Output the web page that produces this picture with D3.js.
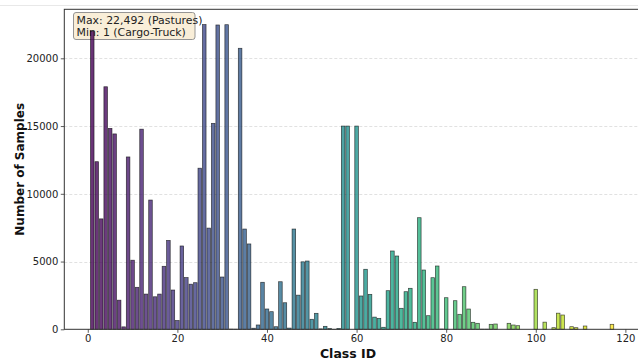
<!DOCTYPE html>
<html>
<head>
<meta charset="utf-8">
<script src="https://cdn.jsdelivr.net/npm/d3@7"></script>
<style>
  html, body { margin: 0; padding: 0; background: #fff; }
  svg { display: block; }
  text { font-family: "DejaVu Sans", sans-serif; }
</style>
</head>
<body>
<svg id="chart" width="638" height="360"></svg>
<script>
// ---- data ----
const classIds = [
  1,2,3,4,5,6,7,8,9,10,11,12,13,14,15,16,17,18,19,20,
  21,22,23,24,25,26,27,28,29,30,31,32,33,34,35,36,37,38,39,40,
  41,42,43,44,45,46,47,48,49,50,51,52,53,54,55,56,57,58,60,
  61,62,63,64,65,66,67,68,69,70,71,72,73,74,75,76,77,78,79,80,
  82,83,84,85,86,87,88,89,90,91,94,95,96,100,102,104,105,106,108,109,111,117
];
const sampleCounts = [
  22000,12370,8150,17900,14830,14420,2150,180,12720,5100,3100,14770,2600,9540,2400,2600,4650,6560,2900,650,
  6150,3820,3330,3440,11890,22492,7470,15200,22460,3860,22480,15,10,20740,7400,6300,80,320,3470,1500,
  1300,190,3510,1960,90,7400,2520,4980,5040,740,1180,30,220,50,1,60,15000,15000,15000,
  2460,4430,2580,900,810,150,2850,5780,5410,1550,2775,3026,517,8236,4376,1004,3808,4672,20,2332,
  2111,1107,3144,1498,517,443,10,10,369,391,443,317,266,2952,528,118,1190,1055,192,118,243,369
];
const maxName = "Pastures";
const minName = "Cargo-Truck";
const xTicks = [0, 20, 40, 60, 80, 100, 120];
const yTicks = [0, 5000, 10000, 15000, 20000];

// ---- layout ----
const svg = d3.select("#chart");
const pLeft = 64.3, pRight = 639.9, pTop = 9.3, pBottom = 329.3;
const barWidth = 0.8;

const maxVal = d3.max(sampleCounts), minVal = d3.min(sampleCounts);
const x = d3.scaleLinear().domain([-5.24, 123.24]).range([pLeft, pRight]);
const y = d3.scaleLinear().domain([0, maxVal * 1.05]).range([pBottom, pTop]);
const color = d3.scaleSequential(d3.interpolateViridis).domain([d3.min(classIds), d3.max(classIds)]);

// faint figure line at very top
svg.append("line").attr("x1", 0).attr("x2", 638).attr("y1", 5.5).attr("y2", 5.5)
  .attr("stroke", "#e8e8e8").attr("stroke-width", 1);

// grid
svg.append("g").selectAll("line").data(yTicks.filter(d => d > 0)).join("line")
  .attr("x1", pLeft).attr("x2", pRight)
  .attr("y1", d => Math.round(y(d)) + 0.5).attr("y2", d => Math.round(y(d)) + 0.5)
  .attr("stroke", "#d9d9d9").attr("stroke-width", 0.8).attr("stroke-dasharray", "3,2");

// annotation box
const ann = svg.append("g");
ann.append("rect").attr("x", 73.5).attr("y", 12.5).attr("width", 121.5).attr("height", 27)
  .attr("rx", 2.5).attr("fill", "#f9eed8").attr("stroke", "#8a8a8a").attr("stroke-width", 0.9);
const fmt = d3.format(",");
ann.append("text").attr("x", 76.5).attr("y", 24).attr("font-size", 10.9).attr("fill", "#222")
  .text(`Max: ${fmt(maxVal)} (${maxName})`);
ann.append("text").attr("x", 76.5).attr("y", 35.5).attr("font-size", 10.9).attr("fill", "#222")
  .text(`Min: ${fmt(minVal)} (${minName})`);

// bars
const data = classIds.map((c, i) => ({ c, v: sampleCounts[i] }));
svg.append("g").selectAll("rect").data(data).join("rect")
  .attr("x", d => x(d.c - barWidth / 2))
  .attr("width", d => x(d.c + barWidth / 2) - x(d.c - barWidth / 2))
  .attr("y", d => y(d.v))
  .attr("height", d => y(0) - y(d.v))
  .attr("fill", d => color(d.c)).attr("fill-opacity", 0.8)
  .attr("stroke", "#000").attr("stroke-opacity", 0.7).attr("stroke-width", 0.7);

// axes
const xAxis = d3.axisBottom(x).tickValues(xTicks).tickSize(3.5).tickPadding(2.5);
const gx = svg.append("g").attr("transform", `translate(0,${pBottom})`).call(xAxis);
const yAxis = d3.axisLeft(y).tickValues(yTicks).tickSize(3.5).tickPadding(2.5).tickFormat(d3.format("d"));
const gy = svg.append("g").attr("transform", `translate(${pLeft},0)`).call(yAxis);
[gx, gy].forEach(g => {
  g.select(".domain").remove();
  g.selectAll(".tick line").attr("stroke", "#333").attr("stroke-width", 0.8);
  g.selectAll(".tick text").attr("font-size", 10).attr("fill", "#222")
    .attr("font-family", "DejaVu Sans, sans-serif");
});

// spines
svg.append("rect").attr("x", pLeft).attr("y", pTop).attr("width", pRight - pLeft).attr("height", pBottom - pTop)
  .attr("fill", "none").attr("stroke", "#333").attr("stroke-width", 1);

// axis labels
svg.append("text").attr("x", 348).attr("y", 357.5)
  .attr("text-anchor", "middle").attr("font-size", 12.5).attr("font-weight", "bold").attr("fill", "#111")
  .text("Class ID");
svg.append("text").attr("transform", `translate(23.5,${(pTop + pBottom) / 2}) rotate(-90)`)
  .attr("text-anchor", "middle").attr("font-size", 12).attr("font-weight", "bold").attr("fill", "#111")
  .text("Number of Samples");
</script>
</body>
</html>
